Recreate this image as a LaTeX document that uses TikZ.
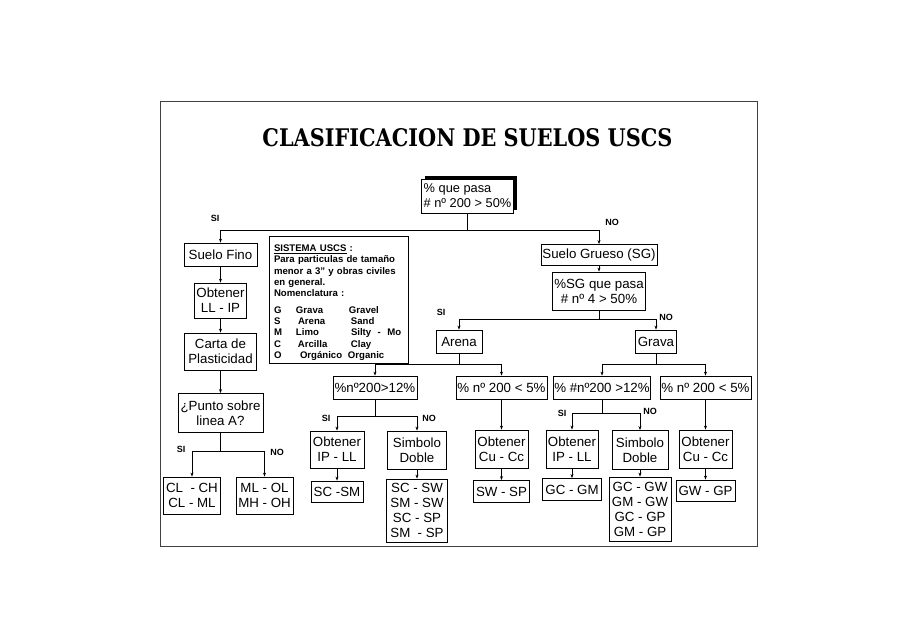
\documentclass[tikz,border=0pt]{standalone}
\usepackage{fontspec}
\setmainfont{Liberation Sans}
\newfontfamily\titlefont{DejaVu Serif}
\usetikzlibrary{arrows.meta,shadows}
\tikzset{
  box/.style={draw=black, line width=0.8pt, fill=white, align=center, inner sep=1pt,
    font=\fontsize{13.3}{15}\selectfont},
  sbox/.style={draw=black, line width=0.8pt, fill=white, align=left, inner sep=0pt,
    font=\bfseries\fontsize{9.6}{11.3}\selectfont},
  lbl/.style={font=\bfseries\fontsize{9}{10}\selectfont, inner sep=0pt},
  con/.style={line width=0.7pt, draw=black},
  arr/.style={con, -{Stealth[length=4pt,width=3pt]}},
}
\begin{document}
\begin{tikzpicture}[x=1pt,y=-1pt]
\useasboundingbox (0,0) rectangle (905,640);
\fill[white] (0,0) rectangle (905,640);
\draw[line width=1pt, black!75] (160,101) rectangle (757,546);

\node[inner sep=0pt] (title) at (467.5,138)
  {\resizebox{410pt}{18pt}{\titlefont\bfseries CLASIFICACION DE SUELOS USCS}};

% root
\node[box, align=left, font=\fontsize{12.8}{15}\selectfont, inner xsep=1.5pt, minimum width=92pt, minimum height=34pt,
  general shadow={fill=black, shadow xshift=3.5pt, shadow yshift=3.5pt}] (root) at (467.5,196)
  {\% que pasa\\\# nº 200 > 50\%};

% fine soils column
\node[box, minimum width=73pt, minimum height=23pt] (fino) at (220.5,254.5) {Suelo Fino};
\node[box, minimum width=52pt, minimum height=35pt] (obt1) at (220.5,300.5) {Obtener\\LL - IP};
\node[box, minimum width=72pt, minimum height=37pt] (carta) at (220.5,351.5) {Carta de\\Plasticidad};
\node[box, minimum width=85pt, minimum height=39pt] (punto) at (220.5,413) {¿Punto sobre\\linea A?};
\node[box, minimum width=57pt, minimum height=37pt] (clch) at (192,495.5) {CL\ \ - CH\\CL - ML};
\node[box, minimum width=57pt, minimum height=37pt] (mloh) at (264.5,495.5) {ML - OL\\MH - OH};

% sistema box
\node[sbox, text width=129pt, minimum width=139pt, minimum height=127pt] (sist) at (338.5,299.5)
  {\rule{0pt}{13pt}\underline{SISTEMA USCS}~:\\
   Para particulas de tamaño\\
   menor a 3" y obras civiles\\
   en general.\\
   Nomenclatura :\\[5pt]
   \makebox[22pt][l]{G}\makebox[53pt][l]{Grava}Gravel\\
   \makebox[24pt][l]{S}\makebox[53pt][l]{Arena}Sand\\
   \makebox[22pt][l]{M}\makebox[55pt][l]{Limo}Silty\ \ -\ \ Mo\\
   \makebox[24pt][l]{C}\makebox[53pt][l]{Arcilla}Clay\\
   \makebox[26pt][l]{O}\makebox[48pt][l]{Orgánico}Organic};

% coarse soils
\node[box, minimum width=116pt, minimum height=21pt] (grueso) at (599,255) {Suelo Grueso (SG)};
\node[box, minimum width=93pt, minimum height=38pt] (sg) at (599,291) {\%SG que pasa\\\# nº 4 > 50\%};
\node[box, minimum width=46pt, minimum height=23pt] (arena) at (459,341.5) {Arena};
\node[box, minimum width=41pt, minimum height=23pt] (grava) at (656,341.5) {Grava};

\node[box, minimum width=84pt, minimum height=23pt] (a1) at (375,387.5) {\%nº200>12\%};
\node[box, minimum width=91pt, minimum height=23pt] (a2) at (501.5,387.5) {\% nº 200 < 5\%};
\node[box, minimum width=96pt, minimum height=23pt] (g1) at (602,387.5) {\% \#nº200 >12\%};
\node[box, minimum width=91pt, minimum height=23pt] (g2) at (705.5,387.5) {\% nº 200 < 5\%};

\node[box, minimum width=54pt, minimum height=37pt] (a1a) at (337,449.5) {Obtener\\IP - LL};
\node[box, minimum width=59pt, minimum height=38pt] (a1b) at (417,450) {Simbolo\\Doble};
\node[box, minimum width=52pt, minimum height=21pt] (a1a2) at (337,491.5) {SC -SM};
\node[box, minimum width=61pt, minimum height=63pt] (a1b2) at (417,510.5) {SC - SW\\SM - SW\\SC - SP\\SM\ \ - SP};

\node[box, minimum width=53pt, minimum height=38pt] (a2a) at (501.5,449) {Obtener\\Cu - Cc};
\node[box, minimum width=56pt, minimum height=22pt] (a2b) at (501.5,491.5) {SW - SP};

\node[box, minimum width=52pt, minimum height=38pt] (g1a) at (572,449) {Obtener\\IP - LL};
\node[box, minimum width=56pt, minimum height=39pt] (g1b) at (640,450) {Simbolo\\Doble};
\node[box, minimum width=59pt, minimum height=22pt] (g1a2) at (572,489.5) {GC - GM};
\node[box, minimum width=62pt, minimum height=64pt] (g1b2) at (640,509) {GC - GW\\GM - GW\\GC - GP\\GM - GP};

\node[box, minimum width=53pt, minimum height=38pt] (g2a) at (705.5,449) {Obtener\\Cu - Cc};
\node[box, minimum width=59pt, minimum height=21pt] (g2b) at (705.5,490.5) {GW - GP};

% connectors
\draw[con] (root.south) -- ++(0,17) coordinate (j0);
\draw[arr] (j0) -| (fino.north);
\draw[arr] (j0) -| (grueso.north);
\draw[arr] (fino) -- (obt1);
\draw[arr] (obt1) -- (carta);
\draw[arr] (carta) -- (punto);
\draw[con] (punto.south) -- ++(0,18.5) coordinate (jp);
\draw[arr] (jp) -| (clch.north);
\draw[arr] (jp) -| (mloh.north);

\draw[arr] (grueso) -- (sg);
\draw[con] (sg.south) -- ++(0,9) coordinate (js);
\draw[arr] (js) -| (arena.north);
\draw[arr] (js) -| (grava.north);
\draw[con] (arena.south) -- ++(0,11) coordinate (ja);
\draw[arr] (ja) -| (a1.north);
\draw[arr] (ja) -| (a2.north);
\draw[con] (grava.south) -- ++(0,11) coordinate (jg);
\draw[arr] (jg) -| (g1.north);
\draw[arr] (jg) -| (g2.north);

\draw[con] (a1.south) -- ++(0,17) coordinate (ja1);
\draw[arr] (ja1) -| (a1a.north);
\draw[arr] (ja1) -| (a1b.north);
\draw[arr] (a1a) -- (a1a2);
\draw[arr] (a1b) -- (a1b2);
\draw[arr] (a2) -- (a2a);
\draw[arr] (a2a) -- (a2b);
\draw[con] (g1.south) -- ++(0,14) coordinate (jg1);
\draw[arr] (jg1) -| (g1a.north);
\draw[arr] (jg1) -| (g1b.north);
\draw[arr] (g1a) -- (g1a2);
\draw[arr] (g1b) -- (g1b2);
\draw[arr] (g2) -- (g2a);
\draw[arr] (g2a) -- (g2b);

% labels
\node[lbl] (l1) at (215,218) {SI};
\node[lbl] (l2) at (612,222) {NO};
\node[lbl] (l3) at (181,449) {SI};
\node[lbl] (l4) at (277,452) {NO};
\node[lbl] (l5) at (441,312) {SI};
\node[lbl] (l6) at (666,317) {NO};
\node[lbl] (l7) at (326,418) {SI};
\node[lbl] (l8) at (429,418) {NO};
\node[lbl] (l9) at (562,413) {SI};
\node[lbl] (l10) at (650,411) {NO};
\end{tikzpicture}
\end{document}
